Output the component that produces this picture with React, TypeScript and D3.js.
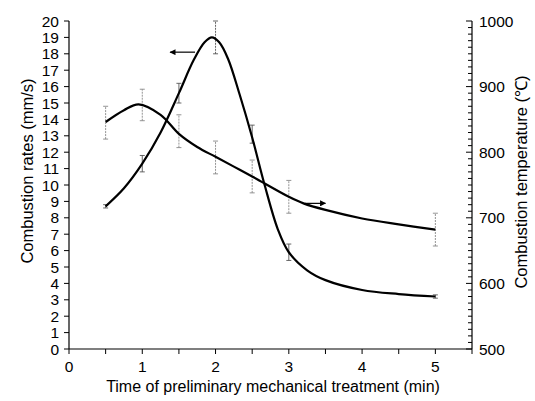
import React from "react";
import * as d3 from "d3";

// Fitted curve: combustion rate (mm/s)
const rateCurveX = [0.5, 0.75, 1, 1.25, 1.5, 1.7, 1.85, 1.95, 2.05, 2.17, 2.33, 2.5, 2.67, 2.85, 3, 3.25, 3.5, 4, 4.5, 5];
const rateCurveY = [8.7, 9.8, 11.3, 13.2, 15.6, 17.6, 18.7, 19.0, 18.7, 17.7, 15.5, 12.9, 10.0, 7.3, 5.9, 4.8, 4.2, 3.6, 3.35, 3.2];

// Fitted curve: combustion temperature (°C)
const tempCurveX = [0.5, 0.75, 0.95, 1.25, 1.5, 1.75, 2, 2.25, 2.5, 3, 3.2, 3.5, 4, 4.5, 5];
const tempCurveY = [846, 864, 873, 857, 828, 808, 793, 778, 763, 732, 722, 712, 699, 690, 682];

// Measured points with error bars
const times = [0.5, 1, 1.5, 2, 2.5, 3, 5];
const rateMean = [8.7, 11.3, 15.6, 19.0, 13.1, 5.9, 3.2];
const rateErr = [0.1, 0.5, 0.6, 1.0, 0.55, 0.5, 0.1];
const tempMean = [845, 872, 832, 792, 763, 732, 682];
const tempErr = [25, 24, 25, 25, 25, 25, 25];

const xTicks = [0, 1, 2, 3, 4, 5];
const xMinorTicks = d3.range(0, 5.51, 0.5);
const leftTicks = d3.range(0, 21, 1);
const rightTicks = [500, 600, 700, 800, 900, 1000];
const rightMinorTicks = d3.range(500, 1001, 10);

const W = 535;
const H = 401;
const X0 = 69;
const X1 = 472;
const Y0 = 349;
const Y1 = 21;
const FONT = "'Liberation Sans', Arial, sans-serif";

export default function App() {
  const x = d3.scaleLinear().domain([0, 5.5]).range([X0, X1]);
  const yL = d3.scaleLinear().domain([0, 20]).range([Y0, Y1]);
  const yR = d3.scaleLinear().domain([500, 1000]).range([Y0, Y1]);

  const rateLine = d3
    .line<number>()
    .x((_, i) => x(rateCurveX[i]))
    .y((d) => yL(d))
    .curve(d3.curveCatmullRom.alpha(0.5));
  const tempLine = d3
    .line<number>()
    .x((_, i) => x(tempCurveX[i]))
    .y((d) => yR(d))
    .curve(d3.curveCatmullRom.alpha(0.5));

  const cap = 2.5;

  return (
    <svg
      width={W}
      height={H}
      style={{ position: "absolute", left: 0, top: 0, background: "#fff" }}
      fontFamily={FONT}
    >
      <defs>
        <marker id="ah" viewBox="0 0 10 10" refX="9" refY="5" markerWidth="7" markerHeight="5" orient="auto">
          <path d="M0,0 L10,5 L0,10 z" fill="#000" />
        </marker>
      </defs>
      <rect x={0} y={0} width={W} height={H} fill="#fff" />

      {/* error bars: temperature */}
      {times.map((t, i) => (
        <g key={"te" + i} stroke="#888" strokeWidth={0.9}>
          <line x1={x(t)} x2={x(t)} y1={yR(tempMean[i] - tempErr[i])} y2={yR(tempMean[i] + tempErr[i])} strokeDasharray="2,1" />
          <line x1={x(t) - cap} x2={x(t) + cap} y1={yR(tempMean[i] - tempErr[i])} y2={yR(tempMean[i] - tempErr[i])} />
          <line x1={x(t) - cap} x2={x(t) + cap} y1={yR(tempMean[i] + tempErr[i])} y2={yR(tempMean[i] + tempErr[i])} />
        </g>
      ))}
      {/* error bars: rate */}
      {times.map((t, i) => (
        <g key={"re" + i} stroke="#555" strokeWidth={0.9}>
          <line x1={x(t)} x2={x(t)} y1={yL(rateMean[i] - rateErr[i])} y2={yL(rateMean[i] + rateErr[i])} strokeDasharray={i === 3 ? "2,1" : undefined} />
          <line x1={x(t) - cap} x2={x(t) + cap} y1={yL(rateMean[i] - rateErr[i])} y2={yL(rateMean[i] - rateErr[i])} />
          <line x1={x(t) - cap} x2={x(t) + cap} y1={yL(rateMean[i] + rateErr[i])} y2={yL(rateMean[i] + rateErr[i])} />
        </g>
      ))}

      {/* curves */}
      <path d={tempLine(tempCurveY) || ""} fill="none" stroke="#000" strokeWidth={2.2} />
      <path d={rateLine(rateCurveY) || ""} fill="none" stroke="#000" strokeWidth={2.2} />

      {/* arrows */}
      <line x1={x(1.72)} x2={x(1.38)} y1={yL(18.1)} y2={yL(18.1)} stroke="#000" strokeWidth={1.2} markerEnd="url(#ah)" />
      <line x1={x(3.22)} x2={x(3.5)} y1={yR(722)} y2={yR(722)} stroke="#000" strokeWidth={1.2} markerEnd="url(#ah)" />

      {/* left axis */}
      <line x1={X0} x2={X0} y1={Y1} y2={Y0} stroke="#000" strokeWidth={1.2} />
      {leftTicks.map((v) => (
        <g key={"l" + v}>
          <line x1={X0 - 5} x2={X0} y1={yL(v)} y2={yL(v)} stroke="#000" strokeWidth={1} />
          <text x={59} y={yL(v)} dy="0.36em" textAnchor="end" fontSize={15.5}>
            {v}
          </text>
        </g>
      ))}

      {/* bottom axis */}
      <line x1={X0} x2={X1} y1={Y0} y2={Y0} stroke="#000" strokeWidth={1.2} />
      {xMinorTicks.map((v) => (
        <line key={"xm" + v} x1={x(v)} x2={x(v)} y1={Y0} y2={Y0 + 5} stroke="#000" strokeWidth={1} />
      ))}
      {xTicks.map((v) => (
        <text key={"xt" + v} x={x(v)} y={372} textAnchor="middle" fontSize={15.5}>
          {v}
        </text>
      ))}

      {/* right axis */}
      <line x1={X1} x2={X1} y1={Y1} y2={Y0} stroke="#000" strokeWidth={1.2} />
      {rightMinorTicks.map((v) => (
        <line key={"rm" + v} x1={X1 - (v % 100 === 0 ? 6 : 4)} x2={X1} y1={yR(v)} y2={yR(v)} stroke="#000" strokeWidth={1} />
      ))}
      {rightTicks.map((v) => (
        <text key={"rt" + v} x={479} y={yR(v)} dy="0.36em" textAnchor="start" fontSize={15.5}>
          {v}
        </text>
      ))}

      {/* titles */}
      <text x={273} y={392} textAnchor="middle" fontSize={16}>
        Time of preliminary mechanical treatment (min)
      </text>
      <text transform={`translate(33,171) rotate(-90)`} textAnchor="middle" fontSize={16.5}>
        Combustion rates (mm/s)
      </text>
      <text transform={`translate(527,182) rotate(-90)`} textAnchor="middle" fontSize={16.5}>
        Combustion temperature (℃)
      </text>
    </svg>
  );
}
